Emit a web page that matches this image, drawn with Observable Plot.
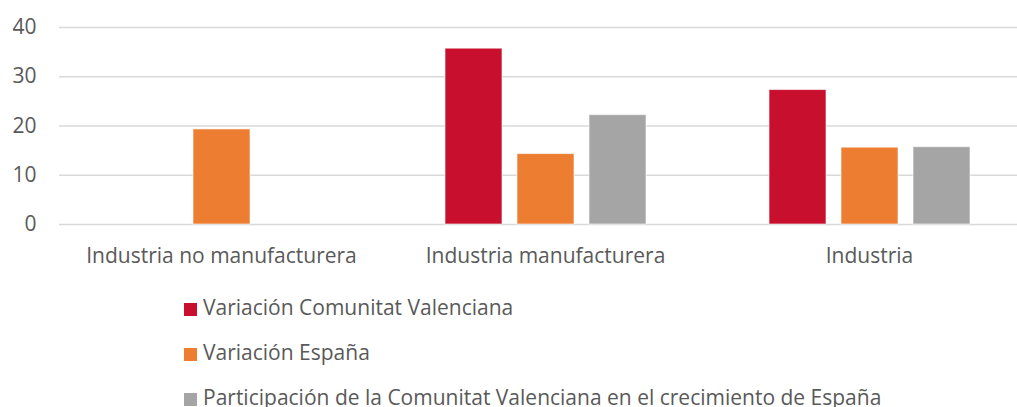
<!DOCTYPE html>
<html>
<head>
<meta charset="utf-8">
<script src="https://cdn.jsdelivr.net/npm/d3@7"></script>
<script src="https://cdn.jsdelivr.net/npm/@observablehq/plot@0.6"></script>
<style>
  html, body { margin: 0; padding: 0; background: #fff; overflow: hidden; }
  #wrap { position: relative; width: 1017px; height: 407px; overflow: hidden; font-family: "Open Sans", sans-serif; color: #595959; }
  #chart { position: absolute; left: 0; top: 0; width: 1035px; }
  #chart svg { max-width: none !important; }
  #legend { position: absolute; left: 184px; top: 297px; font-size: 21px; }
  .row { height: 45px; display: flex; align-items: flex-start; line-height: 21px; white-space: nowrap; }
  .sw { width: 13px; height: 13px; margin-right: 6px; margin-top: 5.5px; flex: none; }
</style>
</head>
<body>
<div id="wrap"><div id="chart"></div><div id="legend"></div></div>
<script>
const categories = ["Industria no manufacturera", "Industria manufacturera", "Industria"];
const series = ["Variación Comunitat Valenciana", "Variación España", "Participación de la Comunitat Valenciana en el crecimiento de España"];
const colors = ["#C8102E", "#ED7D31", "#A5A5A5"];
const valuesCV = [null, 35.7, 27.3];
const valuesES = [19.3, 14.3, 15.6];
const valuesPart = [null, 22.2, 15.7];
const yTicks = [0, 10, 20, 30, 40];

const seriesValues = [valuesCV, valuesES, valuesPart];
const data = [];
categories.forEach((c, i) => {
  series.forEach((s, j) => {
    const v = seriesValues[j][i];
    if (v != null) data.push({category: c, series: s, value: v});
  });
});

const chart = Plot.plot({
  width: 1035,
  height: 272,
  marginLeft: 58,
  marginRight: 3,
  marginTop: 27,
  marginBottom: 48,
  style: {fontFamily: "Open Sans, sans-serif", fontSize: "21px", color: "#595959", background: "transparent", maxWidth: "none"},
  fx: {domain: categories, padding: 0, label: null},
  x: {domain: series, paddingInner: 0.213, paddingOuter: 0.849, axis: null},
  y: {domain: [0, 40], label: null},
  color: {domain: series, range: colors},
  marks: [
    Plot.gridY(yTicks, {stroke: "#d9d9d9", strokeOpacity: 1, strokeWidth: 1.5}),
    Plot.barY(data, {fx: "category", x: "series", y: "value", fill: "series", stroke: "#ffffff", strokeOpacity: 0.6, strokeWidth: 1}),
    Plot.axisY(yTicks, {tickSize: 0, tickPadding: 23, label: null, fill: "#595959", fontSize: 21}),
    Plot.axisFx({anchor: "bottom", tickSize: 0, tickPadding: 24, label: null, fill: "#595959", fontSize: 21})
  ]
});
document.getElementById("chart").appendChild(chart);

const legend = document.getElementById("legend");
series.forEach((s, j) => {
  const row = document.createElement("div");
  row.className = "row";
  const sw = document.createElement("span");
  sw.className = "sw";
  sw.style.background = colors[j];
  const t = document.createElement("span");
  t.textContent = s;
  row.appendChild(sw);
  row.appendChild(t);
  legend.appendChild(row);
});
</script>
</body>
</html>
